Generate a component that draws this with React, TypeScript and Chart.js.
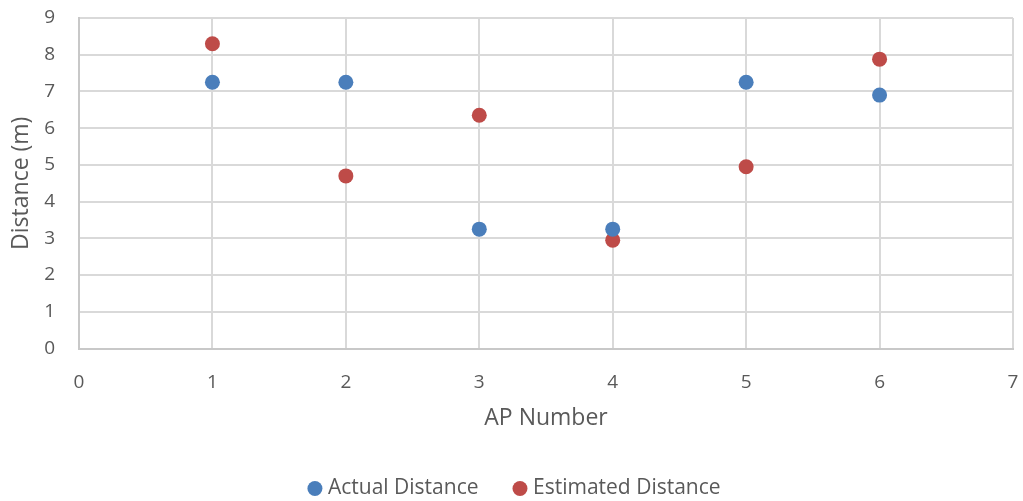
import React, { useEffect, useRef } from "react";
import { Chart, registerables } from "chart.js";

Chart.register(...registerables);

const apNumbers = [1, 2, 3, 4, 5, 6];
const actualDistance = [7.25, 7.25, 3.25, 3.25, 7.25, 6.9];
const estimatedDistance = [8.3, 4.7, 6.35, 2.95, 4.95, 7.88];
const xTitle = "AP Number";
const yTitle = "Distance (m)";
const seriesNames = ["Actual Distance", "Estimated Distance"];

const FONT = "'Open Sans', 'DejaVu Sans', sans-serif";
const TEXT = "#595959";

export default function App() {
  const ref = useRef<HTMLCanvasElement | null>(null);

  useEffect(() => {
    document.body.style.margin = "0";
    const canvas = ref.current;
    if (!canvas) return;
    const chart = new Chart(canvas, {
      type: "scatter",
      data: {
        datasets: [
          {
            label: seriesNames[0],
            data: apNumbers.map((x, i) => ({ x, y: actualDistance[i] })),
            backgroundColor: "#4a7ebb",
            borderColor: "#4a7ebb",
            borderWidth: 0,
            pointRadius: 7.5,
            pointHoverRadius: 7.5,
          },
          {
            label: seriesNames[1],
            data: apNumbers.map((x, i) => ({ x, y: estimatedDistance[i] })),
            backgroundColor: "#be4b48",
            borderColor: "#be4b48",
            borderWidth: 0,
            pointRadius: 7.5,
            pointHoverRadius: 7.5,
          },
        ],
      },
      options: {
        animation: false,
        responsive: false,
        maintainAspectRatio: false,
        layout: { padding: { left: 10, right: 0, top: 18, bottom: -8 } },
        plugins: {
          tooltip: { enabled: false },
          legend: {
            position: "bottom",
            labels: {
              usePointStyle: true,
              pointStyle: "circle",
              boxWidth: 5,
              boxHeight: 10.6,
              padding: 39,
              color: TEXT,
              font: { family: FONT, size: 21 },
            },
          },
        },
        scales: {
          x: {
            type: "linear",
            min: 0,
            max: 7,
            ticks: {
              stepSize: 1,
              padding: 23,
              color: TEXT,
              font: { family: FONT, size: 19 },
            },
            grid: { color: "#d9d9d9", lineWidth: 2, drawTicks: false },
            border: { color: "#c8c8c8", width: 2 },
            title: {
              display: true,
              text: xTitle,
              color: TEXT,
              font: { family: FONT, size: 23 },
              padding: { top: 0, bottom: 7 },
            },
            afterFit: (scale: any) => {
              scale.height = 90.5;
              scale.paddingLeft = 0;
              scale.paddingRight = 10;
            },
          },
          y: {
            type: "linear",
            min: 0,
            max: 9,
            ticks: {
              stepSize: 1,
              padding: 24,
              color: TEXT,
              font: { family: FONT, size: 19 },
            },
            grid: { color: "#d9d9d9", lineWidth: 2, drawTicks: false },
            border: { color: "#c8c8c8", width: 2 },
            title: {
              display: true,
              text: yTitle,
              color: TEXT,
              font: { family: FONT, size: 23 },
              padding: { top: -2, bottom: 0 },
            },
            afterFit: (scale: any) => {
              scale.width = 69;
              scale.paddingTop = 0;
              scale.paddingBottom = 0;
            },
          },
        },
      },
    });
    return () => chart.destroy();
  }, []);

  return (
    <div style={{ width: 1023, height: 501 }}>
      <canvas ref={ref} width={1023} height={501} />
    </div>
  );
}
